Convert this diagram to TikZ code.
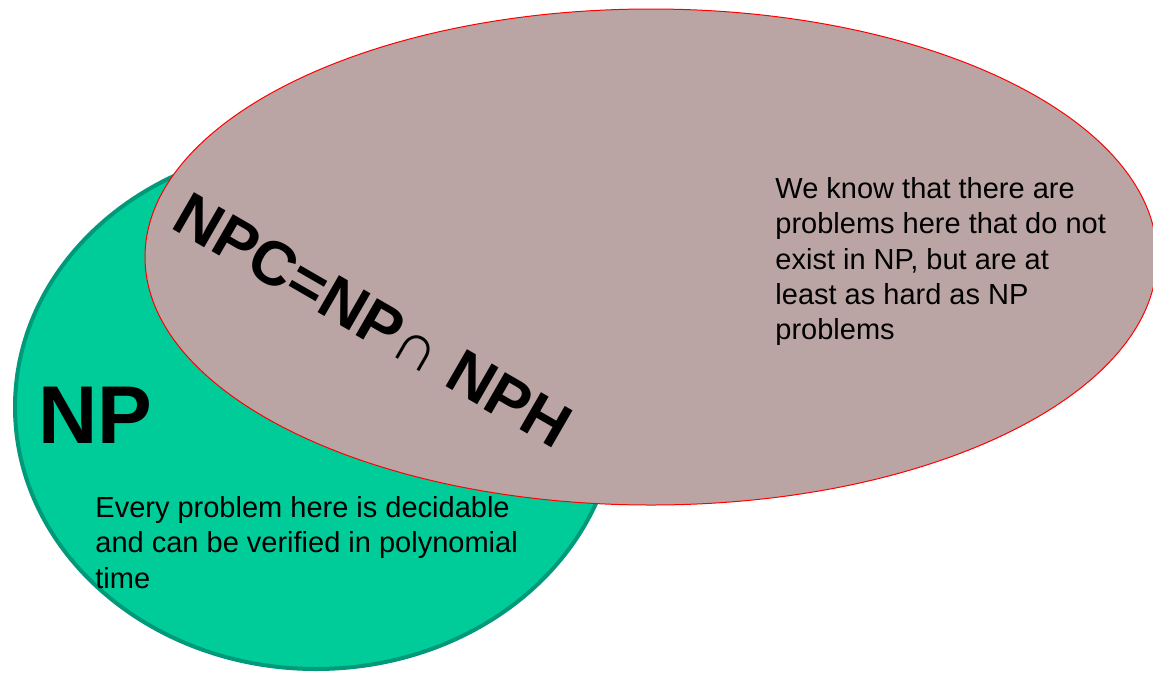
\documentclass[tikz,border=0pt]{standalone}
\usepackage{fontspec}
\setmainfont{Liberation Sans}

\definecolor{npgreen}{HTML}{00CC99}
\definecolor{npgreenline}{HTML}{00997A}
\definecolor{nphbrown}{HTML}{BAA5A4}

\begin{document}
\begin{tikzpicture}[%
        x = 1pt,
        y = -1pt,
        line width = 0.3mm,
        bodytext/.style = {font = \fontsize{29}{35.3}\selectfont, align = left, inner sep = 0pt}
    ]

        % Fix the size of the page.
        \useasboundingbox (0, 0) rectangle (1153, 673);

        % Centres of the two sets.
        \coordinate (NPc) at (316, 407);
        \coordinate (NPHc) at (651, 257);

        % The set NP, and the set NPH lying over it.
        \draw[fill = npgreen, draw = npgreenline, line width = 4pt]
            (NPc) ellipse [x radius = 301, y radius = 262];
        \draw[fill = nphbrown, draw = red, line width = 1pt]
            (NPHc) ellipse [x radius = 506, y radius = 248];

        % Set names.
        \node[anchor = base west, inner sep = 0pt, font = \fontsize{82}{90}\selectfont\bfseries]
            (NPname) at (38, 443) {NP};
        \node[anchor = base west, inner sep = 0pt, rotate = -30,
              font = \fontsize{62}{66}\selectfont\bfseries]
            (NPCname) at (169, 227) {NPC=NP{\mdseries∩} NPH};

        % Notes on the two sets.
        \node[bodytext, anchor = north west] (NPnote) at (95, 496)
            {Every problem here is decidable\\and can be verified in polynomial\\time};
        \node[bodytext, anchor = north west] (NPHnote) at (775, 177)
            {We know that there are\\problems here that do not\\exist in NP, but are at\\least as hard as NP\\problems};
    \end{tikzpicture}
\end{document}
